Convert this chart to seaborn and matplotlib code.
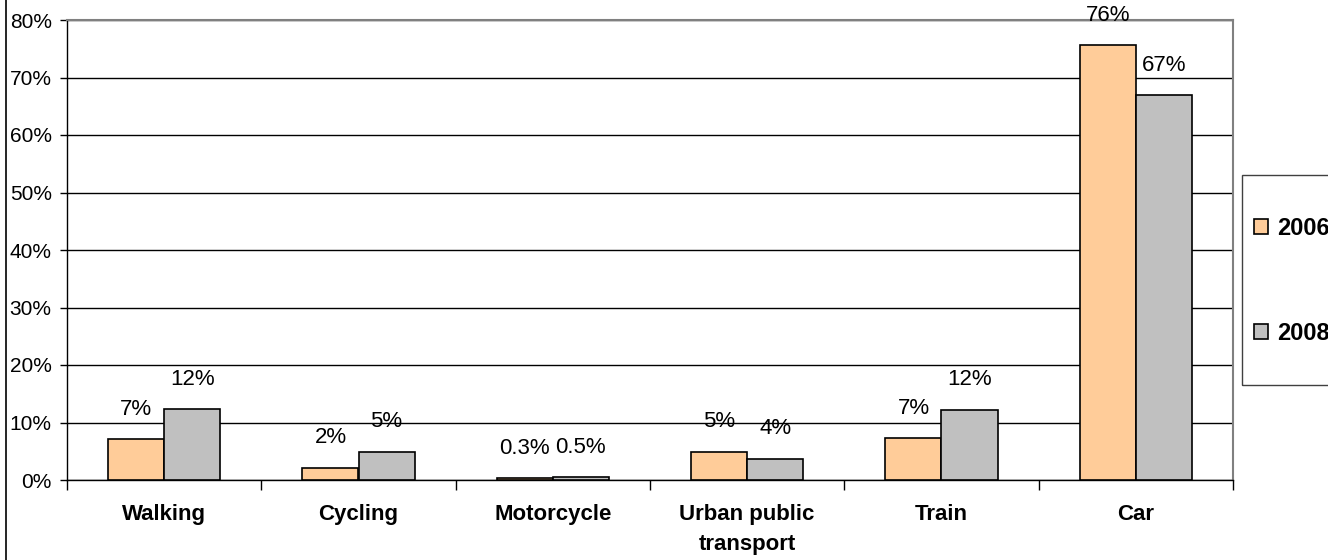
import matplotlib
matplotlib.use('Agg')
import matplotlib.pyplot as plt
import seaborn as sns
import pandas as pd
from matplotlib.lines import Line2D
from matplotlib.patches import Rectangle
from matplotlib.ticker import PercentFormatter

# Dados do gráfico (modal split)
categories = ['Walking', 'Cycling', 'Motorcycle', 'Urban public\ntransport', 'Train', 'Car']
years = ['2006', '2008']
share_2006 = [7.1, 2.1, 0.3, 4.9, 7.3, 75.6]
share_2008 = [12.3, 4.9, 0.5, 3.7, 12.2, 66.9]
labels_2006 = ['7%', '2%', '0.3%', '5%', '7%', '76%']
labels_2008 = ['12%', '5%', '0.5%', '4%', '12%', '67%']
colors = ['#FFCC99', '#C0C0C0']

data = pd.DataFrame({
    'mode': categories * 2,
    'year': [years[0]] * len(categories) + [years[1]] * len(categories),
    'share': share_2006 + share_2008,
})

sns.set_style('white')
plt.rcParams['font.family'] = ['Liberation Sans', 'DejaVu Sans']
plt.rcParams['text.color'] = 'black'
plt.rcParams['xtick.color'] = 'black'
plt.rcParams['ytick.color'] = 'black'

fig = plt.figure(figsize=(13.28, 5.6), dpi=100)
ax = fig.add_axes([67 / 1328, 80 / 560, (1233 - 67) / 1328, 460 / 560])

sns.barplot(data=data, x='mode', y='share', hue='year', palette=colors,
            width=0.577, gap=0, edgecolor='black', linewidth=1.2,
            saturation=1, ax=ax, legend=True, zorder=3)

for cont, labs in zip(ax.containers, [labels_2006, labels_2008]):
    ax.bar_label(cont, labels=labs, padding=14, fontsize=16, color='black', zorder=4)

ax.set_ylim(0, 80)
ax.set_yticks(range(0, 81, 10))
ax.yaxis.set_major_formatter(PercentFormatter(decimals=0))
ax.grid(axis='y', color='black', linewidth=1, zorder=0)
ax.set_axisbelow(True)
ax.set_xlim(-0.5, len(categories) - 0.5)
ax.set_xlabel('')
ax.set_ylabel('')

ax.tick_params(axis='y', labelsize=15, length=5, width=1, direction='out', pad=6, left=True,
               labelcolor='black')
ax.tick_params(axis='x', which='major', length=0, pad=17, labelcolor='black')
ax.set_xticks([i + 0.5 for i in range(-1, len(categories))], minor=True)
ax.tick_params(axis='x', which='minor', length=7, width=1, direction='out', bottom=True)
for t in ax.get_xticklabels():
    t.set_fontsize(16)
    t.set_fontweight('bold')
    t.set_linespacing(1.6)

for side in ['left', 'bottom']:
    ax.spines[side].set_color('black')
    ax.spines[side].set_linewidth(1)
for side in ['top', 'right']:
    ax.spines[side].set_color('#808080')
    ax.spines[side].set_linewidth(1.5)

# Legenda à direita (cortada pela borda da figura)
handles, lbls = ax.get_legend_handles_labels()
leg = ax.legend(handles, lbls, loc='center left', bbox_to_anchor=(1254 / 1328, 1 - 281 / 560),
                bbox_transform=fig.transFigure, frameon=False,
                prop={'weight': 'bold', 'size': 17},
                handlelength=0.6, handleheight=0.6, handletextpad=0.38,
                labelspacing=3.45, borderpad=0, borderaxespad=0)
for txt in leg.get_texts():
    txt.set_color('black')
fig.add_artist(Rectangle((1242 / 1328, 1 - 385 / 560), 0.2, 210 / 560,
                         transform=fig.transFigure, facecolor='none',
                         edgecolor='#404040', linewidth=1))

# Moldura externa (só a borda esquerda fica visível)
fig.add_artist(Line2D([6 / 1328, 6 / 1328], [0, 1], color='black', linewidth=1.2,
                      transform=fig.transFigure))

plt.savefig('out.png', dpi=100)
